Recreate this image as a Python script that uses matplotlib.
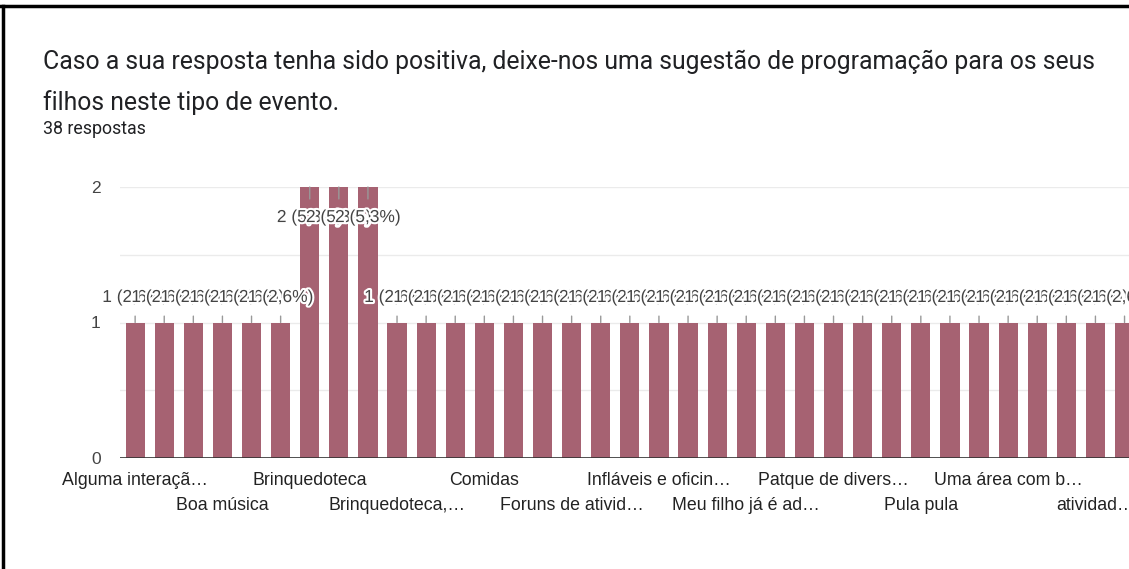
import matplotlib
matplotlib.use("Agg")
import matplotlib.pyplot as plt
import matplotlib.patheffects as pe
import numpy as np

# respostas por sugestão (35 categorias, ordem alfabética)
valores = [1, 1, 1, 1, 1, 1, 2, 2, 2, 1, 1, 1, 1, 1, 1, 1, 1, 1,
           1, 1, 1, 1, 1, 1, 1, 1, 1, 1, 1, 1, 1, 1, 1, 1, 1]
total = 38
# só um rótulo a cada 3 barras aparece no gráfico
rotulos = ["Alguma interaçã…", "Boa música", "Brinquedoteca", "Brinquedoteca,…",
           "Comidas", "Foruns de ativid…", "Infláveis e oficin…", "Meu filho já é ad…",
           "Patque de divers…", "Pula pula", "Uma área com b…", "atividad…"]
passo = 3

titulo = ("Caso a sua resposta tenha sido positiva, deixe-nos uma sugestão de programação para os seus\n"
          "filhos neste tipo de evento.")
subtitulo = "38 respostas"
legenda_fig = "Sugestões de programação"

plt.rcParams['font.family'] = ['Roboto', 'DejaVu Sans']
fonte_graf = ['Liberation Sans', 'DejaVu Sans']

W, H = 1129, 569
fig = plt.figure(figsize=(W / 100, H / 100), dpi=100)

# moldura preta (borda superior e esquerda do recorte)
fig.add_artist(plt.Line2D([0, 1], [1 - 6 / H, 1 - 6 / H], color='black', lw=2.5))
fig.add_artist(plt.Line2D([3 / W, 3 / W], [0, 1 - 6 / H], color='black', lw=2.5))

# legenda da figura cortada no topo
fig.text(0.565, 1 + 11 / H, legenda_fig, ha='center', va='baseline',
         fontsize=25, fontweight='bold', family='Liberation Serif', color='black')

linhas = titulo.split('\n')
fig.text(43 / W, 1 - 62 / H, linhas[0], ha='left', va='center',
         fontsize=17.8, color='#202124')
fig.text(43 / W, 1 - 103 / H, linhas[1], ha='left', va='center',
         fontsize=17.8, color='#202124')
fig.text(43 / W, 1 - 129 / H, subtitulo, ha='left', va='center', fontsize=12.8,
         color='#202124')

n = len(valores)
x = np.arange(n)
pitch = 29.1
xmin = -0.52
xmax = n - 0.5
ax = fig.add_axes([120 / W, 1 - 458 / H, (xmax - xmin) * pitch / W, 271 / H])
ax.set_xlim(xmin, xmax)
ax.set_ylim(0, 2)

ax.bar(x, valores, width=0.66, color='#a66272', zorder=2)

for s in ax.spines.values():
    s.set_visible(False)
ax.axhline(0, color='#333333', lw=1.2, zorder=3)
ax.set_yticks([0, 0.5, 1, 1.5, 2])
ax.set_yticklabels(['0', '', '1', '', '2'], family=fonte_graf)
ax.yaxis.grid(True, color='#ebebeb', lw=1, zorder=0)
ax.tick_params(axis='y', length=0, pad=14, labelsize=12.5, labelcolor='#444444')

pos = x[::passo]
ax.set_xticks(pos[0::2])
ax.set_xticklabels(rotulos[0::2], family=fonte_graf)
ax.set_xticks(pos[1::2], minor=True)
ax.set_xticklabels(rotulos[1::2], minor=True, family=fonte_graf)
ax.tick_params(axis='x', which='major', length=0, pad=10, labelsize=12.8, labelcolor='#222222')
ax.tick_params(axis='x', which='minor', length=0, pad=28, labelsize=12.8, labelcolor='#222222')

halo = [pe.withStroke(linewidth=3, foreground='white')]
for i, v in enumerate(valores):
    txt = f"{v} ({v / total * 100:.1f}%)".replace('.', ',')
    off = -22 if v >= 2 else 18
    ax.annotate(txt, xy=(i, v), xytext=(0, off), textcoords='offset points',
                ha='center', va='center', fontsize=12.5, color='#444444',
                family=fonte_graf, path_effects=halo, zorder=4,
                annotation_clip=False,
                arrowprops=dict(arrowstyle='-', color='#999999', lw=1,
                                shrinkA=6, shrinkB=0))

fig.savefig('out.png', dpi=100)
